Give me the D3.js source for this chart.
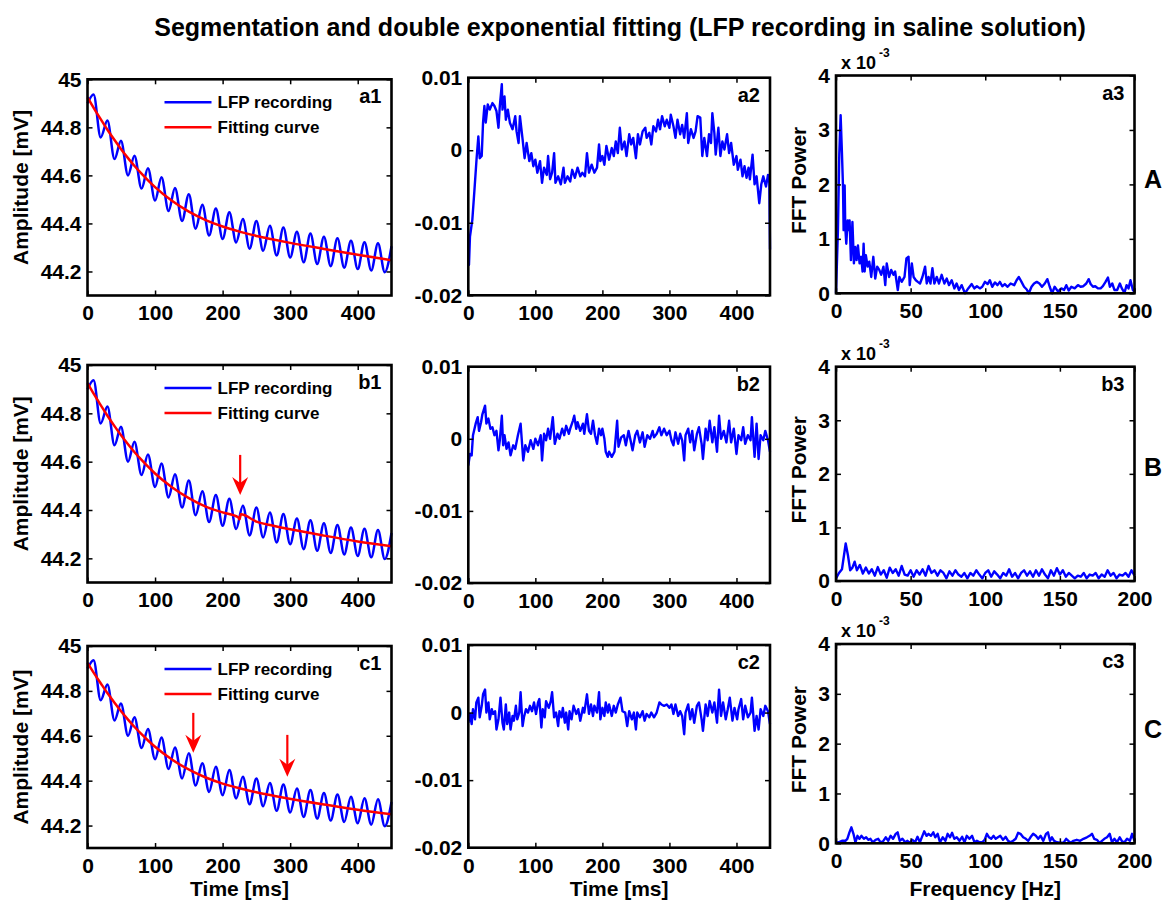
<!DOCTYPE html>
<html>
<head>
<meta charset="utf-8">
<script src="https://cdn.jsdelivr.net/npm/d3@7"></script>
<style>
  body { margin: 0; background: #fff; }
  svg { font-family: Arial, "Liberation Sans", sans-serif; font-weight: bold; }
</style>
</head>
<body>
<div id="svg-container"></div>
<script>
////////////////////////////////////////////////////////////////////
////////////////////////////  Data  ////////////////////////////////
// LFP recording (time ms, mV) - extrema of the 50 Hz ripple, same trace in a1/b1/c1
const lfpRecording = [
  [0,44.900],[9,44.937],[19.5,44.758],[29.5,44.828],[40,44.668],[49.5,44.744],[60,44.600],[69.5,44.682],
  [80,44.545],[89.5,44.630],[100,44.495],[109.5,44.592],[120,44.452],[129.5,44.548],[140,44.410],[150,44.522],
  [160,44.378],[170,44.478],[180,44.350],[190,44.462],[200,44.335],[210,44.447],[220,44.321],[230,44.418],
  [240,44.295],[250,44.410],[260,44.286],[270,44.390],[280,44.266],[290,44.383],[300,44.258],[310,44.365],
  [320,44.238],[330,44.358],[340,44.231],[350,44.345],[360,44.222],[370,44.338],[380,44.216],[390,44.328],
  [400,44.210],[410,44.322],[420,44.204],[430,44.317],[440,44.197],[450,44.305]
];

// fitting curves (time ms, mV)
const fitA = [
  [0,44.925],[10,44.877],[20,44.832],[30,44.788],[40,44.747],[50,44.708],[60,44.672],[70,44.638],
  [80,44.607],[90,44.578],[100,44.551],[125,44.494],[150,44.449],[175,44.414],[200,44.387],[225,44.366],
  [250,44.348],[275,44.333],[300,44.319],[350,44.294],[400,44.270],[450,44.247]
];
const fitB = [
  [0,44.925],[10,44.877],[20,44.832],[30,44.788],[40,44.747],[50,44.708],[60,44.672],[70,44.638],
  [80,44.607],[90,44.578],[100,44.551],[125,44.494],[150,44.449],[175,44.414],[200,44.390],[223,44.370],
  [225,44.361],[227,44.382],[250,44.352],[275,44.335],[300,44.320],[350,44.294],[400,44.270],[450,44.250]
];
const fitC = [
  [0,44.925],[10,44.877],[20,44.832],[30,44.788],[40,44.747],[50,44.708],[60,44.672],[70,44.638],
  [80,44.607],[90,44.578],[100,44.551],[125,44.494],[156,44.440],[175,44.414],[200,44.387],[225,44.366],
  [250,44.348],[275,44.333],[295,44.322],[350,44.294],[400,44.270],[450,44.250]
];

// residuals (time ms, x1e-3 mV)
const residA = [
  [0,-15.8],[1,-15.8],[2.5,-11.9],[6,-9.6],[9,-5.7],[12.4,-1.1],[15,1.9],[17,-1.1],[20,-0.8],[22,3.8],
  [24,6.1],[26,3.8],[29,6.3],[32,5.6],[36,6.5],[39,6.1],[42,5.4],[45,3.1],[47,6.1],[50,9.1],[51,5.6],
  [54,7.4],[56,4.2],[59,5.6],[62,3.8],[66,2.9],[70,4.7],[72,2.6],[75,1.0],[77,4.7],[81,1.5],[84,-1.1],
  [87,1.0],[91,-1.5],[94,-0.4],[97,-2.2],[100,-1.3],[103,-3.1],[107,-1.5],[110,-4.5],[113,-2.4],[117,-3.4],
  [119,-0.8],[122,-4.0],[125,-3.1],[128,-0.4],[130,-4.5],[134,-3.6],[138,-4.7],[142,-2.4],[144,-4.5],
  [148,-3.6],[152,-4.3],[155,-2.7],[159,-3.8],[163,-2.4],[167,-3.6],[170,-3.1],[174,-3.6],[177,-0.4],
  [180,-3.1],[184,-2.0],[188,-3.1],[192,-2.4],[195,0.8],[197,-1.5],[200,-0.8],[203,-2.0],[206,0.6],
  [210,-1.3],[214,0.3],[217,-0.8],[220,1.2],[223,-0.4],[226,3.1],[229,0.1],[233,1.2],[236,-0.8],[240,2.2],
  [243,0.8],[246,1.7],[250,-1.1],[253,2.2],[256,0.8],[260,2.6],[264,3.1],[266,1.7],[270,2.4],[273,0.8],
  [276,3.3],[280,2.6],[283,4.2],[286,2.9],[289,4.7],[293,3.3],[296,4.2],[300,3.1],[302,4.9],[306,3.3],
  [309,1.7],[312,4.2],[316,2.2],[319,3.5],[322,1.7],[326,5.1],[328,1.0],[332,2.9],[336,1.7],[339,2.6],
  [342,4.7],[346,4.5],[349,-0.8],[352,1.7],[356,-0.8],[359,2.2],[362,1.0],[364,5.1],[367,2.4],[369,-0.6],
  [373,3.1],[376,-0.8],[379,1.2],[382,0.1],[386,2.2],[389,-0.4],[392,1.0],[396,-2.0],[400,-0.8],[402,-2.7],
  [406,-1.3],[409,-3.6],[412,-2.2],[415,-3.8],[418,-2.4],[420,-4.0],[424,-0.6],[427,-4.7],[430,-3.6],
  [434,-7.3],[437,-4.7],[440,-3.6],[444,-5.0],[447,-3.4],[449,-4.5],[450,-13.7]
];
const residB = [
  [0,-3.7],[2.5,-2.1],[5,-2.3],[7,0.5],[11,2.1],[14,3.0],[16,1.1],[19,2.3],[21,3.4],[25,4.6],[27,2.1],
  [30,2.8],[33,1.4],[36,1.6],[39,0.5],[42,1.1],[45,-1.6],[47,-0.2],[50,3.2],[52,-0.9],[54,0.5],[57,-1.4],
  [60,-0.5],[63,-2.3],[67,-0.9],[70,-1.4],[74,0.5],[78,2.1],[82,-3.0],[85,-0.9],[89,-1.8],[93,-0.2],
  [97,-1.4],[100,0],[104,-0.9],[108,0.5],[110,-3.0],[113,0.7],[116,-0.2],[119,1.4],[122,0],[126,3.0],
  [129,-0.7],[133,0.7],[136,0],[140,1.4],[143,0.5],[146,1.8],[150,0.7],[152,1.4],[156,2.5],[158,3.2],
  [161,1.4],[163,2.3],[167,1.1],[171,2.1],[173,0.7],[177,3.4],[180,1.1],[183,0.7],[186,2.5],[189,0.5],
  [192,-0.7],[195,1.4],[198,0.5],[200,1.4],[203,0],[205,-1.8],[208,-2.5],[210,-1.8],[214,-2.5],[218,-1.8],
  [222,2.5],[224,-1.1],[228,0.2],[232,0.5],[235,-0.9],[239,1.1],[242,-0.2],[245,-1.6],[249,0.5],[252,1.1],
  [256,-0.5],[260,0.9],[263,-1.1],[267,0.5],[271,0],[275,1.1],[277,0.2],[281,0.7],[285,1.6],[288,0.5],
  [292,1.4],[296,0.5],[300,1.1],[303,-0.2],[306,-0.9],[309,0.9],[313,-0.7],[316,0.7],[319,-0.2],[322,-3.0],
  [324,0.5],[328,1.4],[331,-0.5],[334,1.1],[337,-1.6],[341,0.7],[344,1.6],[348,-0.7],[350,-2.8],[354,1.4],
  [357,-0.2],[360,2.5],[364,-0.5],[367,1.6],[371,-1.8],[374,3.2],[377,0],[381,1.1],[385,-0.5],[389,2.5],
  [392,-0.5],[396,1.4],[400,-2.1],[403,0.5],[407,-0.2],[410,1.6],[413,-0.7],[417,0.5],[421,-0.2],[423,3.0],
  [427,-2.5],[430,2.1],[433,-2.8],[436,0.5],[440,-0.2],[443,1.1],[447,-0.2],[450,-1.8]
];
const residC = [
  [0,-1.5],[2.5,-0.2],[5,-1.7],[7,0.5],[10,-1.0],[12,1.5],[15,2.2],[17,-0.7],[20,1.0],[22,2.7],[25,3.4],
  [27,0],[30,1.5],[32,-1.0],[35,0.5],[37,-0.2],[40,0.2],[42,-2.5],[45,-1.0],[48,2.2],[51,-1.5],[53,-2.5],
  [56,1.2],[58,-1.7],[61,0],[63,-2.5],[66,-0.5],[68,-1.2],[71,1.0],[73,-1.0],[76,0],[78,3.0],[81,-2.0],
  [83,-0.7],[86,0.5],[89,0],[92,1.0],[95,0.2],[98,1.5],[101,-0.2],[104,1.5],[106,2.0],[109,-2.2],[111,0.5],
  [114,-0.7],[116,1.7],[120,0.7],[123,1.7],[125,3.0],[128,-0.7],[131,0],[134,-2.0],[136,0.2],[139,-0.7],
  [141,0.7],[144,-1.5],[146,0],[149,-2.5],[151,0.2],[154,-1.0],[157,1.0],[161,-0.2],[164,0.5],[167,-1.2],
  [171,0.7],[173,0],[177,2.7],[180,-0.2],[183,1.2],[186,-0.5],[188,1.0],[192,0],[195,3.0],[197,-1.0],
  [200,0.7],[203,-0.5],[205,1.5],[208,0],[210,1.2],[214,-0.5],[217,1.0],[220,0],[223,1.2],[227,2.2],
  [230,0.2],[234,0],[237,-2.0],[240,0.2],[244,-1.0],[247,0],[250,-2.5],[252,0],[256,-0.7],[260,0.2],
  [263,-1.2],[266,-0.2],[270,-0.7],[273,0],[277,-0.7],[281,0],[285,1.5],[288,1.2],[292,1.0],[296,1.2],
  [300,0.7],[303,1.2],[306,-0.2],[309,1.2],[313,-0.5],[316,0.2],[319,-0.5],[322,-3.2],[324,0],[328,1.2],
  [331,-1.0],[334,0.5],[337,-1.5],[341,1.0],[344,1.5],[348,-1.0],[350,-2.7],[354,1.2],[357,-0.5],[360,1.7],
  [364,0],[367,1.5],[371,-1.5],[374,3.4],[377,-0.5],[380,1.5],[384,-1.0],[387,0.5],[390,2.2],[394,-1.2],
  [397,0.7],[401,-1.0],[403,0.5],[407,2.0],[410,-1.0],[413,1.0],[417,-0.7],[421,0],[423,2.2],[427,-2.7],
  [430,-0.5],[433,-2.5],[436,0.5],[440,-0.5],[443,1.0],[447,0.2],[450,-1.7]
];

// FFT power (Hz, x1e-3)
const fftA = [
  [0,0],[1.3,1.16],[2.2,2.56],[3.1,3.27],[4,2.56],[4.7,1.95],[5.1,1.16],[5.8,1.98],[6.2,1.22],[6.9,0.91],
  [7.8,1.34],[8.5,1.16],[9.1,1.34],[10,0.61],[11,1.31],[12,0.55],[12.9,0.85],[13.8,0.61],[14.7,0.88],
  [15.8,0.55],[16.9,0.67],[17.8,0.40],[18.5,0.91],[19.2,0.40],[20,0.70],[21.2,0.49],[22.3,0.58],[23.6,0.30],
  [25,0.67],[26.3,0.27],[27.6,0.49],[29,0.43],[30.3,0.34],[31.8,0.49],[33,0.15],[34,0.55],[35.6,0.30],
  [37,0.43],[38.5,0.34],[39.6,0.40],[41.4,0.06],[42.5,0.30],[44,0.21],[45.9,0.30],[47.2,0.64],[48.6,0.67],
  [49.4,0.15],[50.8,0.55],[52,0.30],[53.5,0.24],[54.8,0.21],[56.3,0.18],[57.9,0.30],[59.7,0.49],[60.8,0.18],
  [62,0.30],[63.3,0.18],[64.6,0.46],[65.9,0.18],[67.5,0.30],[69,0.18],[70.8,0.34],[72.6,0.18],[74.2,0.27],
  [75.7,0.15],[77.5,0.24],[79.3,0.09],[80.8,0.18],[82.4,0.06],[84.2,0.15],[86.4,0],[88.6,0.09],[90.9,0.17],
  [92.7,0.09],[94.4,0.13],[96.4,0.09],[98,0.12],[99.8,0.21],[101.6,0.17],[103.1,0.24],[104.7,0.12],
  [106.5,0.20],[108.2,0.15],[109.8,0.21],[111.4,0.13],[113.1,0.17],[115,0.12],[117,0.18],[119.4,0.15],
  [121,0.24],[122.5,0.30],[124.3,0.21],[126,0.12],[127.8,0.07],[129.2,0],[131,0.12],[132.7,0.18],
  [134.5,0.21],[136.3,0.18],[138,0.12],[139.9,0.18],[141.6,0.26],[143.2,0.12],[144.8,0],[146.5,0.12],
  [148.8,0.03],[151,0.09],[152.8,0.06],[154.3,0.15],[155.9,0.05],[157.7,0.12],[159.9,0.09],[162.1,0.15],
  [163.9,0.12],[165.7,0.13],[167.7,0.18],[169.3,0.26],[170.6,0.17],[172.2,0.12],[173.7,0.13],[175.5,0.09],
  [177.3,0.09],[178.8,0.13],[180.4,0.20],[182.2,0.29],[183.5,0.12],[185.1,0.18],[186.6,0.06],[188.4,0.06],
  [190.2,0.18],[191.5,0.09],[193.3,0.01],[194.7,0.15],[196,0.09],[197.3,0.24],[198.9,0.06],[200,0.03]
];
const fftB = [
  [0,0.05],[2,0.15],[4,0.22],[6.5,0.70],[8,0.48],[9.5,0.20],[11,0.25],[12.5,0.36],[14,0.20],[16,0.30],
  [18,0.14],[20,0.25],[22,0.14],[24,0.22],[26,0.10],[28,0.26],[30,0.12],[32,0.20],[34,0.06],[36,0.25],
  [38,0.15],[40,0.22],[42,0.10],[44,0.28],[46,0.12],[48,0.10],[50,0.20],[52,0.08],[54,0.20],[56,0.12],
  [58,0.22],[60,0.10],[62,0.28],[64,0.15],[66,0.20],[68,0.10],[70,0.20],[72,0.15],[74,0.05],[76,0.18],
  [78,0.10],[80,0.20],[82,0.12],[84,0.08],[86,0.15],[88,0.05],[90,0.15],[92,0.10],[94,0.20],[96,0.12],
  [98,0.05],[100,0.15],[102,0.20],[104,0.08],[106,0.18],[108,0.12],[110,0.05],[112,0.15],[114,0.10],
  [116,0.22],[118,0.08],[120,0.15],[122,0.05],[124,0.15],[126,0.20],[128,0.10],[130,0.18],[132,0.08],
  [134,0.20],[136,0.10],[138,0.22],[140,0.12],[142,0.05],[144,0.20],[146,0.10],[148,0.24],[150,0.12],
  [152,0.20],[154,0.08],[156,0.15],[158,0.10],[160,0.05],[162,0.10],[164,0.08],[166,0.15],[168,0.05],
  [170,0.12],[172,0.10],[174,0.15],[176,0.05],[178,0.12],[180,0.08],[182,0.20],[184,0.10],[186,0.15],
  [188,0.05],[190,0.12],[192,0.10],[194,0.15],[196,0.08],[198,0.20],[200,0.10]
];
const fftC = [
  [0,0.01],[1.8,0.02],[4,0.05],[6.3,0.05],[7.6,0.09],[9,0.22],[10.3,0.32],[11.7,0.19],[13,0.02],[14.4,0.15],
  [15.7,0.09],[17,0.15],[18.7,0.09],[20.2,0.12],[21.6,0.07],[23.1,0.09],[24.7,0.02],[26.5,0.07],[28.3,0.09],
  [29.9,0.02],[31.5,0.04],[33.3,0.12],[35,0.05],[36.6,0.15],[38.2,0.09],[40,0.19],[41.3,0.22],[42.7,0.05],
  [44.5,0.09],[46.3,0.02],[47.9,0.05],[49.4,0.01],[51.2,0.07],[53,0.02],[54.6,0.13],[56.2,0.02],[57.5,0.12],
  [59.1,0.24],[60.7,0.15],[62,0.19],[63.6,0.15],[65.2,0.22],[66.5,0.12],[68.1,0.19],[69.7,0.02],[71.5,0.12],
  [73.3,0.05],[74.8,0.19],[76.4,0.12],[77.8,0.21],[79.3,0.09],[80.9,0.12],[82.7,0.05],[84.5,0.13],[86.1,0.02],
  [87.6,0.15],[89.4,0.09],[91.2,0.15],[92.8,0.02],[94.4,0.05],[96.2,0.02],[98,0.02],[99.6,0.07],[101.1,0.19],
  [102.5,0.12],[104,0.09],[105.6,0.15],[107,0.09],[108.5,0.12],[110.1,0.15],[111.9,0.07],[113.7,0.13],
  [115.3,0.05],[116.9,0.02],[118.7,0.05],[120.4,0.09],[122,0.21],[123.6,0.19],[125.4,0.12],[127.2,0.09],
  [128.8,0.05],[130.3,0.12],[132.1,0.19],[133.9,0.15],[135.5,0.09],[137.1,0.15],[138.9,0.05],[140.7,0.19],
  [142,0.22],[143.4,0.05],[144.7,0.12],[146.1,0.05],[147.9,0.02],[150.1,0.01],[152.4,0.01],[154.2,0.09],
  [155.7,0.05],[157.3,0.01],[159.1,0.05],[161.3,0.07],[163.6,0.05],[165.8,0.09],[168.1,0.12],[169.9,0.15],
  [171.5,0.19],[173,0.09],[174.8,0.07],[176.6,0.01],[178.2,0.05],[179.8,0.09],[181.6,0.12],[183.4,0.19],
  [184.9,0.02],[186.5,0.09],[188.3,0.02],[190.1,0.12],[191.7,0.04],[193.3,0.02],[195,0.09],[196.9,0.05],
  [198.4,0.19],[200,0.05]
];

// red arrows: [time ms, start mV, tip mV]
const arrowsB = [[226, 44.628, 44.462]];
const arrowsC = [[156.6, 44.702, 44.524], [295.8, 44.604, 44.418]];

// tick labels
const timeTicks = [0, 100, 200, 300, 400];
const freqTicks = [0, 50, 100, 150, 200];
const ampTicks = [44.2, 44.4, 44.6, 44.8, 45];
const residTicks = [-20, -10, 0, 10];
const powerTicks = [0, 1, 2, 3, 4];
const rowNames = ["A", "B", "C"];
const legendNames = ["LFP recording", "Fitting curve"];

////////////////////////////////////////////////////////////////////
////////////////////////////  Init  ////////////////////////////////
const width = 1166;
const height = 901;
const svg = d3.select("#svg-container").append("svg")
  .attr("width", width).attr("height", height);

const blue = "#0000ff";
const red = "#ff0000";

// panel box positions
const colX = [[87.5, 391.5], [468.3, 770], [836, 1134.5]];
const rowY = [
  [[79.3, 295.5], [77.7, 295.3], [75.5, 293.3]],
  [[365, 582.5], [366.7, 583], [366.7, 581]],
  [[646, 848], [645, 847.7], [644, 843.3]]
];

const fits = [fitA, fitB, fitC];
const resids = [residA, residB, residC];
const ffts = [fftA, fftB, fftC];
const arrows = [[], arrowsB, arrowsC];
const letters = ["a", "b", "c"];

// title
svg.append("text")
  .attr("x", 620).attr("y", 36)
  .attr("text-anchor", "middle")
  .attr("font-size", 25)
  .text("Segmentation and double exponential fitting (LFP recording in saline solution)");

function styleAxis(g) {
  g.attr("font-family", null).attr("font-size", null);
  g.select(".domain").remove();
  g.selectAll(".tick line").attr("stroke", "#000").attr("stroke-width", 1.5);
  g.selectAll(".tick text").attr("fill", "#000").attr("font-size", 21);
}

function drawPanel(row, col) {
  const [x0, x1] = colX[col];
  const [y0, y1] = rowY[row][col];
  const g = svg.append("g");

  let xDomain, xTicks, yDomain, yTicks, yFormat;
  if (col === 0) {
    xDomain = [0, 450]; xTicks = timeTicks;
    yDomain = [44.1, 45]; yTicks = ampTicks; yFormat = (d) => String(+d.toFixed(1));
  } else if (col === 1) {
    xDomain = [0, 450]; xTicks = timeTicks;
    yDomain = [-20, 10]; yTicks = residTicks; yFormat = (d) => String(d / 1000);
  } else {
    xDomain = [0, 200]; xTicks = freqTicks;
    yDomain = [0, 4]; yTicks = powerTicks; yFormat = (d) => String(d);
  }

  const x = d3.scaleLinear().domain(xDomain).range([x0, x1]);
  const y = d3.scaleLinear().domain(yDomain).range([y1, y0]);

  // lines
  if (col === 0) {
    const curve = d3.line().x((d) => x(d[0])).y((d) => y(d[1]));
    g.append("path").datum(lfpRecording)
      .attr("d", curve.curve(d3.curveMonotoneX))
      .attr("fill", "none").attr("stroke", blue).attr("stroke-width", 2.5);
    g.append("path").datum(fits[row])
      .attr("d", curve.curve(d3.curveMonotoneX))
      .attr("fill", "none").attr("stroke", red).attr("stroke-width", 2.5);

    // legend
    const lg = [[blue, legendNames[0], 23], [red, legendNames[1], 48]];
    lg.forEach(([c, name, dy]) => {
      g.append("line")
        .attr("x1", x0 + 77).attr("x2", x0 + 124)
        .attr("y1", y0 + dy).attr("y2", y0 + dy)
        .attr("stroke", c).attr("stroke-width", 2.5);
      g.append("text")
        .attr("x", x0 + 130).attr("y", y0 + dy + 6)
        .attr("font-size", 17).text(name);
    });

    // red arrows
    arrows[row].forEach(([t, v0, v1]) => {
      const ax = x(t), ay0 = y(v0), ay1 = y(v1);
      g.append("line")
        .attr("x1", ax).attr("x2", ax).attr("y1", ay0).attr("y2", ay1 - 8)
        .attr("stroke", red).attr("stroke-width", 2.2);
      g.append("path")
        .attr("d", `M${ax},${ay1} L${ax - 8},${ay1 - 18} L${ax},${ay1 - 12} L${ax + 8},${ay1 - 18} Z`)
        .attr("fill", red);
    });
  } else {
    const data = col === 1 ? resids[row] : ffts[row];
    const line = d3.line().x((d) => x(d[0])).y((d) => y(d[1]));
    g.append("path").datum(data)
      .attr("d", line)
      .attr("fill", "none").attr("stroke", blue).attr("stroke-width", 2.4)
      .attr("stroke-linejoin", "round");
  }

  // axes (ticks point inwards on all four sides)
  g.append("g").attr("transform", `translate(0,${y1})`)
    .call(d3.axisBottom(x).tickValues(xTicks).tickSizeInner(-5).tickSizeOuter(0).tickPadding(10))
    .call(styleAxis);
  g.append("g").attr("transform", `translate(0,${y0})`)
    .call(d3.axisTop(x).tickValues(xTicks).tickSizeInner(-5).tickSizeOuter(0).tickFormat(""))
    .call(styleAxis);
  g.append("g").attr("transform", `translate(${x0},0)`)
    .call(d3.axisLeft(y).tickValues(yTicks).tickSizeInner(-5).tickSizeOuter(0).tickPadding(6).tickFormat(yFormat))
    .call(styleAxis);
  g.append("g").attr("transform", `translate(${x1},0)`)
    .call(d3.axisRight(y).tickValues(yTicks).tickSizeInner(-5).tickSizeOuter(0).tickFormat(""))
    .call(styleAxis);

  // box
  g.append("rect")
    .attr("x", x0).attr("y", y0).attr("width", x1 - x0).attr("height", y1 - y0)
    .attr("fill", "none").attr("stroke", "#000").attr("stroke-width", 2.6);

  // panel label
  g.append("text")
    .attr("x", x1 - 10).attr("y", y0 + 24)
    .attr("text-anchor", "end").attr("font-size", 20)
    .text(letters[row] + (col + 1));

  // axis labels
  if (col === 0) {
    g.append("text")
      .attr("transform", `translate(28,${(y0 + y1) / 2}) rotate(-90)`)
      .attr("text-anchor", "middle").attr("font-size", 21)
      .text("Amplitude [mV]");
  }
  if (col === 2) {
    g.append("text")
      .attr("transform", `translate(806,${(y0 + y1) / 2 - 4}) rotate(-90)`)
      .attr("text-anchor", "middle").attr("font-size", 21)
      .text("FFT Power");
    // exponent
    g.append("text").attr("x", x0 + 5).attr("y", y0 - 7).attr("font-size", 18).text("x 10");
    g.append("text").attr("x", x0 + 43).attr("y", y0 - 19).attr("font-size", 12).text("-3");
    // row name
    svg.append("text")
      .attr("x", 1144).attr("y", [188, 476, 738][row])
      .attr("font-size", 25)
      .text(rowNames[row]);
  }
  if (row === 2) {
    g.append("text")
      .attr("x", (x0 + x1) / 2).attr("y", 896)
      .attr("text-anchor", "middle").attr("font-size", 21)
      .text(col === 2 ? "Frequency [Hz]" : "Time [ms]");
  }
}

for (let r = 0; r < 3; r++) {
  for (let c = 0; c < 3; c++) drawPanel(r, c);
}
</script>
</body>
</html>
